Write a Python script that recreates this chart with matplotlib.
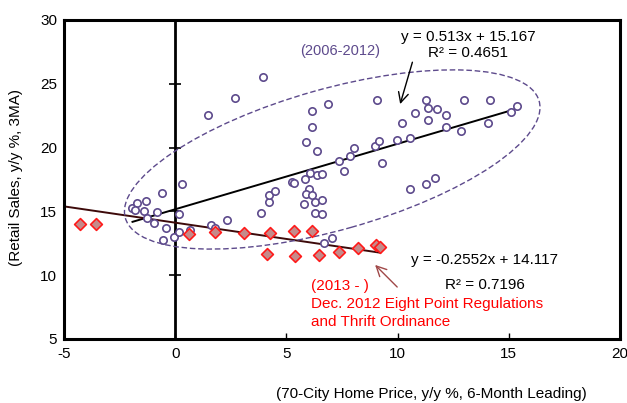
import matplotlib
matplotlib.use("Agg")
import matplotlib.pyplot as plt
from matplotlib.patches import Ellipse
from matplotlib.transforms import Affine2D

plt.rcParams['font.family'] = ['Liberation Sans', 'DejaVu Sans']
plt.rcParams['axes.unicode_minus'] = False

# 2006-2012: home price (x, 6m leading) vs retail sales (y)
pre_x = [-1.92, -1.71, -1.32, -1.81, -1.41, -1.26, -0.94, -0.82, -0.60, 0.30,
         0.18, -0.42, -0.57, -0.06, 0.15, 0.67, 1.59, 1.77, 2.32, 1.48,
         2.68, 3.97, 3.85, 4.20, 4.20, 4.48, 5.23, 5.32, 5.83, 6.00,
         5.88, 6.17, 5.77, 6.28, 6.58, 6.28, 6.58, 6.08, 6.37, 6.58,
         6.38, 5.87, 6.17, 6.17, 6.86, 7.37, 7.87, 8.06, 7.57, 6.68,
         7.07, 9.07, 8.99, 9.17, 9.28, 9.98, 10.58, 10.18, 10.78, 11.36,
         11.27, 11.36, 11.77, 12.17, 12.17, 12.86, 12.98, 14.16, 14.07, 15.08,
         15.36, 10.57, 11.27, 11.68]
pre_y = [15.29, 15.63, 15.81, 15.08, 15.03, 14.51, 14.11, 14.95, 16.44, 17.12,
         14.82, 13.72, 12.76, 13.02, 13.41, 13.54, 13.93, 13.68, 14.35, 22.58,
         23.90, 25.56, 14.87, 15.76, 16.26, 16.60, 17.30, 17.20, 17.50, 16.73,
         16.40, 16.28, 15.56, 15.74, 15.86, 14.90, 14.83, 18.04, 17.85, 17.90,
         19.76, 20.46, 21.64, 22.87, 23.44, 18.95, 19.37, 19.99, 18.17, 12.52,
         12.94, 23.70, 20.10, 20.52, 18.77, 20.57, 20.78, 21.90, 22.69, 22.14,
         23.73, 23.13, 23.05, 22.53, 21.61, 21.30, 23.76, 23.76, 21.93, 22.77,
         23.28, 16.73, 17.12, 17.62]

# 2013 onwards
post_x = [-4.29, -3.54, 0.64, 1.77, 3.09, 4.27, 5.34, 6.14, 4.11, 5.40,
          6.47, 7.37, 8.20, 9.05, 9.22]
post_y = [13.99, 13.99, 13.25, 13.39, 13.31, 13.33, 13.44, 13.46, 11.64, 11.53,
          11.56, 11.84, 12.13, 12.39, 12.20]

# fitted trend lines: (slope, intercept, x range)
pre_fit = (0.513, 15.167, [-1.92, 15.36])
post_fit = (-0.2552, 14.117, [-5.0, 9.22])

note_lines = ["(2013 - )", "Dec. 2012 Eight Point Regulations", "and Thrift Ordinance"]

fig = plt.figure(figsize=(6.27, 4.03), dpi=100)
ax = fig.add_axes([64 / 627, 1 - 339 / 403, 556 / 627, 319 / 403])
ax.set_xlim(-5, 20)
ax.set_ylim(5, 30)

for s in ax.spines.values():
    s.set_linewidth(2.2)

ax.axvline(0, color='black', lw=2, zorder=1)
ax.plot([0] * 4, [10, 15, 20, 25], marker='_', ms=9, mew=1.2, ls='none', color='black', zorder=1)

ax.scatter(pre_x, pre_y, s=28, facecolors='white', edgecolors='#5d4a8c', linewidths=1.2, zorder=3)
ax.scatter(post_x, post_y, s=36, marker='D', facecolors='#c58a8a', edgecolors='#ff1a1a', linewidths=1.2, zorder=4)

m, b, xr = pre_fit
ax.plot(xr, [m * v + b for v in xr], color='black', lw=1.4, zorder=2)
m, b, xr = post_fit
ax.plot(xr, [m * v + b for v in xr], color='#3d0a0a', lw=1.4, zorder=2)

# dashed ring around the 2006-2012 cloud, drawn in pixel-like units
sx = 556 / 25
sy = 319 / 25
ring = Ellipse((7.06 * sx, 19.07 * sy), 430, 141, angle=15.8, fill=False,
               ls=(0, (4, 2)), lw=1, edgecolor='#5d4a8c',
               transform=Affine2D().scale(1 / sx, 1 / sy) + ax.transData, zorder=2)
ax.add_patch(ring)

ax.set_xticks([-5, 0, 5, 10, 15, 20])
ax.set_yticks([5, 10, 15, 20, 25, 30])
ax.tick_params(axis='x', direction='in', length=4, width=1, labelsize=11, pad=6)
ax.tick_params(axis='y', length=0, labelsize=11, pad=5)

fs = 11
ax.text(13.17, 28.05, "y = 0.513x + 15.167\nR² = 0.4651", ha='center', va='center',
        fontsize=fs, linespacing=1.2)
ax.text(5.6, 27.55, "(2006-2012)", color='#5d4a8c', fontsize=10.5, va='center')
ax.annotate("", xy=(10.08, 23.2), xytext=(10.7, 26.9),
            arrowprops=dict(arrowstyle='->', color='black', lw=1, mutation_scale=18))

ax.text(10.6, 11.2, "y = -0.2552x + 14.117", fontsize=fs, va='center')
ax.text(12.15, 9.25, "R² = 0.7196", fontsize=fs, va='center')
for i, line in enumerate(note_lines):
    ax.text(6.1, 9.15 - i * 1.41, line, color='#ff0000', fontsize=fs, va='center', ha='left')
ax.annotate("", xy=(8.9, 10.96), xytext=(10.07, 8.92),
            arrowprops=dict(arrowstyle='->', color='#a04848', lw=1, mutation_scale=18))

fig.text(431 / 627, 1 - 394 / 403, "(70-City Home Price, y/y %, 6-Month Leading)",
         ha='center', va='center', fontsize=fs)
fig.text(16 / 627, 1 - 178 / 403, "(Retail Sales, y/y %, 3MA)", rotation=90,
         ha='center', va='center', fontsize=fs)

fig.savefig("out.png", dpi=100)
